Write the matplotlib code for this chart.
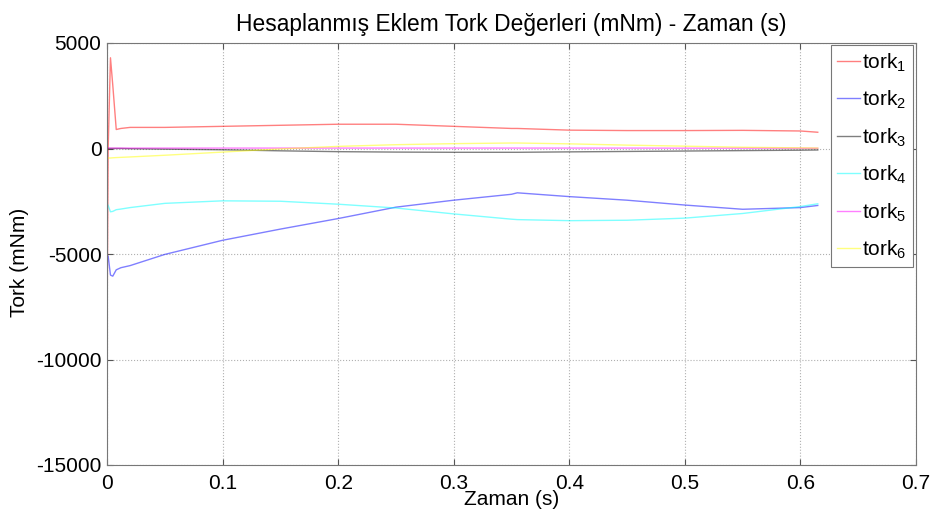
import matplotlib
matplotlib.use("Agg")
import matplotlib.pyplot as plt
import numpy as np

plt.rcParams['font.family'] = ['Liberation Sans', 'DejaVu Sans']
plt.rcParams['mathtext.fontset'] = 'custom'
plt.rcParams['mathtext.rm'] = 'Liberation Sans'
plt.rcParams['mathtext.it'] = 'Liberation Sans'

# time samples (s)
t = [0.0, 0.001, 0.003, 0.005, 0.008, 0.012, 0.02, 0.05, 0.1, 0.15, 0.2,
     0.25, 0.3, 0.35, 0.355, 0.4, 0.45, 0.5, 0.55, 0.6, 0.615]

tork1 = [-8900, 0, 4300, 3000, 900, 950, 1000, 1000, 1050, 1100, 1150,
         1150, 1050, 950, 950, 870, 850, 850, 860, 830, 770]
tork2 = [-5070, -5100, -6000, -6050, -5750, -5650, -5550, -5020, -4350, -3820, -3320,
         -2780, -2450, -2170, -2100, -2280, -2450, -2680, -2880, -2800, -2700]
tork3 = [0, 0, 0, 0, 0, 0, -10, -30, -60, -110, -150,
         -170, -180, -180, -180, -160, -140, -120, -100, -80, -70]
tork4 = [-2600, -2700, -3000, -2980, -2900, -2870, -2800, -2600, -2480, -2500, -2640,
         -2820, -3100, -3350, -3370, -3420, -3400, -3300, -3080, -2750, -2620]
tork5 = [20, 20, 20, 20, 20, 20, 20, 20, 20, 20, 20,
         20, 20, 20, 20, 20, 20, 15, 15, 10, 10]
tork6 = [-450, -450, -450, -440, -430, -420, -400, -320, -170, -20, 100,
         180, 230, 260, 260, 220, 160, 110, 60, 30, 20]

series = [tork1, tork2, tork3, tork4, tork5, tork6]
labels = ['tork$_1$', 'tork$_2$', 'tork$_3$', 'tork$_4$', 'tork$_5$', 'tork$_6$']
colors = ['#ff0000', '#0000ff', '#000000', '#00ffff', '#ff00ff', '#ffff00']

xticks = [0, 0.1, 0.2, 0.3, 0.4, 0.5, 0.6, 0.7]
xticklabels = ['0', '0.1', '0.2', '0.3', '0.4', '0.5', '0.6', '0.7']
yticks = [-15000, -10000, -5000, 0, 5000]
yticklabels = ['-15000', '-10000', '-5000', '0', '5000']

fig = plt.figure(figsize=(9.31, 5.19), dpi=100)
ax = fig.add_axes([107/931, 1-465/519, (916-107)/931, (465-43)/519])

for y, lab, c in zip(series, labels, colors):
    ax.plot(t, y, color=c, lw=1.0, alpha=0.5, label=lab)

ax.set_xlim(0, 0.7)
ax.set_ylim(-15000, 5000)
ax.set_xticks(xticks)
ax.set_xticklabels(xticklabels)
ax.set_yticks(yticks)
ax.set_yticklabels(yticklabels)
ax.grid(True, linestyle=':', color='#b0b0b0', linewidth=0.8)
ax.tick_params(direction='in', length=4, labelsize=15, top=True, right=True,
               color='#555555')
ax.tick_params(axis='x', pad=6.5)
ax.tick_params(axis='y', pad=4)
for s in ax.spines.values():
    s.set_color('#777777')
    s.set_linewidth(0.8)

ax.set_title('Hesaplanmış Eklem Tork Değerleri (mNm) - Zaman (s)', fontsize=16.4, pad=9)
ax.set_xlabel('Zaman (s)', fontsize=15, labelpad=-2)
ax.set_ylabel('Tork (mNm)', fontsize=15)
ax.yaxis.set_label_coords(-0.0964, 0.481)

leg = ax.legend(loc='upper right', bbox_to_anchor=(913/931, 1-45/519),
                bbox_transform=fig.transFigure, fontsize=15, fancybox=False,
                edgecolor='#777777', framealpha=1, handlelength=1.1,
                handletextpad=0.1, labelspacing=0.73, borderpad=0.3,
                borderaxespad=0)
leg.get_frame().set_linewidth(0.8)

fig.savefig('out.png', dpi=100)
